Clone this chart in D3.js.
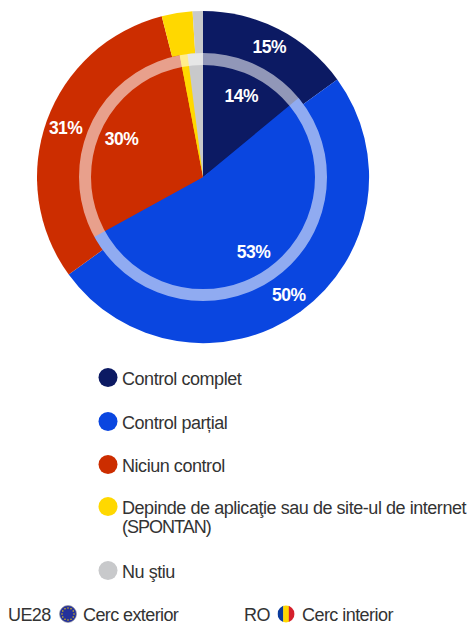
<!DOCTYPE html>
<html><head><meta charset="utf-8">
<style>html,body{margin:0;padding:0;background:#fff}svg{display:block}
text{font-family:"Liberation Sans",Arial,sans-serif}</style>
<script src="https://cdnjs.cloudflare.com/ajax/libs/d3/7.8.5/d3.min.js"></script>
</head><body><svg id="c" width="470" height="624"></svg>
<script>
const categories=["Control complet","Control parțial","Niciun control","Depinde de aplicaţie sau de site-ul de internet","Nu ştiu"];
const legendSecondLine=["","","","(SPONTAN)",""];
const colors=["#0c1a63","#0a46e0","#cc2d00","#ffd800","#c8c9cb"];
const outerValues=[15,50,31,3,1];
const innerValues=[14,53,30,1,2];
const outerLabels=["15%","50%","31%"];
const innerLabels=["14%","53%","30%"];
const footer=[["UE28","Cerc exterior"],["RO","Cerc interior"]];
const roFlag=["#0b3b9c","#ffd800","#d5202c"];

const svg=d3.select("#c");
const cx=203,cy=177,rOuter=166,rInner=124,ringR=118,ringW=12;
const g=svg.append("g").attr("transform",`translate(${cx},${cy})`);
const pie=d3.pie().sort(null).value(d=>d);
const outerArcs=pie(outerValues), innerArcs=pie(innerValues);
const arcO=d3.arc().innerRadius(0).outerRadius(rOuter);
const arcI=d3.arc().innerRadius(0).outerRadius(rInner);
g.selectAll(".o").data(outerArcs).join("path").attr("d",arcO).attr("fill",(d,i)=>colors[i]);
g.selectAll(".i").data(innerArcs).join("path").attr("d",arcI).attr("fill",(d,i)=>colors[i]);
g.append("circle").attr("r",ringR).attr("fill","none").attr("stroke","#fff").attr("stroke-opacity",.55).attr("stroke-width",ringW);

const lab=(arcs,labels,r)=>{
  const a=d3.arc().innerRadius(r).outerRadius(r);
  labels.forEach((t,i)=>{
    const [x,y]=a.centroid(arcs[i]);
    g.append("text").attr("x",x).attr("y",y).attr("dy","0.36em").attr("text-anchor","middle")
     .attr("fill","#fff").attr("font-weight","bold").attr("font-size",17.5).attr("letter-spacing",-0.5).text(t);
  });
};
lab(outerArcs.slice(0,3),outerLabels,146);
lab(innerArcs.slice(0,3),innerLabels,90);

const ys=[378,422,465,507,571];
const tx=(x,y,t,ls)=>svg.append("text").attr("x",x).attr("y",y).attr("font-size",18).attr("fill","#333").attr("letter-spacing",ls).text(t);
categories.forEach((c,i)=>{
  const y=ys[i];
  svg.append("circle").attr("cx",108).attr("cy",y-0.5).attr("r",9.5).attr("fill",colors[i]);
  tx(122,y+6.5,c,-0.45);
  if(legendSecondLine[i]) tx(122,y+26,legendSecondLine[i],-1);
});

// footer
const fy=621;
tx(8,fy,footer[0][0],-0.6); tx(83,fy,footer[0][1],-0.6); tx(244,fy,footer[1][0],-0.6); tx(302,fy,footer[1][1],-0.55);
// EU flag
svg.append("circle").attr("cx",68).attr("cy",614).attr("r",8.5).attr("fill","#24309a").attr("stroke","#999").attr("stroke-width",.6);
d3.range(12).forEach(k=>{
  const a=k*Math.PI/6;
  svg.append("circle").attr("cx",68+6*Math.cos(a)).attr("cy",614+6*Math.sin(a)).attr("r",.7).attr("fill","#ffd800");
});
// RO flag
const defs=svg.append("defs");
defs.append("clipPath").attr("id","ro").append("circle").attr("cx",286).attr("cy",614).attr("r",8.5);
const rog=svg.append("g").attr("clip-path","url(#ro)");
roFlag.forEach((c,k)=>rog.append("rect").attr("x",277.5+k*17/3).attr("y",605).attr("width",17/3+.3).attr("height",18).attr("fill",c));
</script></body></html>
